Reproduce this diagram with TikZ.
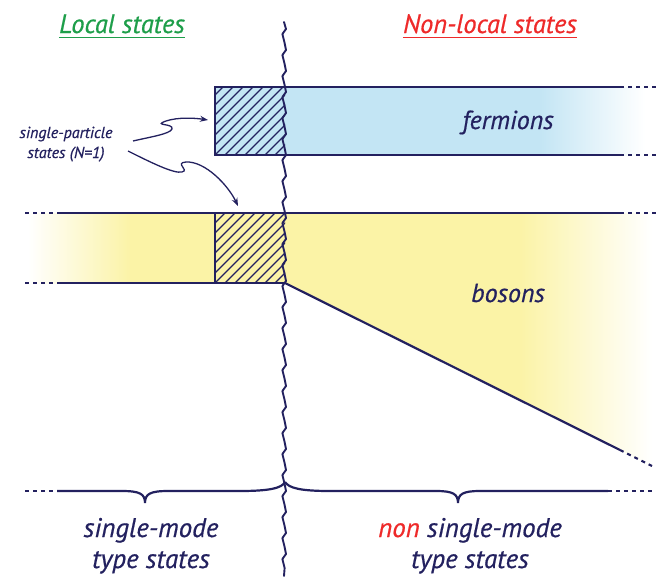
\documentclass[tikz,border=0pt]{standalone}
\usepackage{fontspec}
\setmainfont{PT Sans}[ItalicFeatures={FakeBold=0.6}]
\definecolor{navy}{HTML}{23215F}
\definecolor{lgreen}{HTML}{1E9E4A}
\definecolor{lred}{HTML}{EE2A2A}
\definecolor{fblue}{HTML}{C3E5F4}
\definecolor{byell}{HTML}{FBF3A6}
\tikzset{
  edge/.style={navy, line width=2.2pt},
  dashedge/.style={navy, line width=2.2pt, dash pattern=on 4pt off 4pt},
  hatch/.style={navy, line width=1.3pt},
  lbl/.style={text=navy, font=\itshape\fontsize{26}{30}\selectfont, inner sep=0pt},
  btm/.style={text=navy, font=\itshape\fontsize{27}{31}\selectfont, inner sep=0pt, align=center, anchor=base},
  ttl/.style={font=\itshape\fontsize{26.5}{30}\selectfont, inner sep=0pt, anchor=base},
  curvy/.style={navy, line width=1.3pt, -{Stealth[length=8pt,width=6pt]}}
}
\usetikzlibrary{arrows.meta}
\begin{document}
\begin{tikzpicture}[x=1pt,y=-1pt]
\useasboundingbox (0,0) rectangle (656,579);
% fills
\fill[fblue] (285,87) rectangle (540,155);
\shade[left color=fblue,right color=white] (539,87) rectangle (645,155);
\fill[fblue] (215,87) rectangle (285,155);
\shade[left color=white,right color=byell] (28,213) rectangle (131,283);
\fill[byell] (130,213) rectangle (285,283);
\begin{scope}
  \clip (284,213) -- (656,213) -- (656,468) -- (284,283) -- cycle;
  \fill[byell] (284,213) rectangle (520,470);
  \shade[left color=byell,right color=white] (519,213) rectangle (652,470);
\end{scope}
% hatching
\begin{scope}
  \clip (215,87) rectangle (285,155);
  \foreach \i in {-80,-70,...,80} \draw[hatch] ({215+\i},165) -- ++(90,-90);
\end{scope}
\begin{scope}
  \clip (215,213) rectangle (285,283);
  \foreach \i in {-80,-70,...,80} \draw[hatch] ({215+\i},293) -- ++(90,-90);
\end{scope}
% fermion box lines
\draw[edge] (215,87) -- (620,87);
\draw[edge] (215,155) -- (620,155);
\draw[edge] (215,86) -- (215,156);
\draw[dashedge] (620,87) -- (656,87);
\draw[dashedge] (620,155) -- (656,155);
% boson lines
\draw[dashedge] (25,213) -- (57,213);
\draw[edge] (57,213) -- (620,213);
\draw[dashedge] (620,213) -- (656,213);
\draw[dashedge] (25,283) -- (57,283);
\draw[edge] (57,283) -- (285,283);
\draw[edge] (215,212) -- (215,284);
\coordinate (bstart) at (285,283);
\coordinate (bend) at (620,450);
\coordinate (bfar) at (652,466);
\draw[edge] (bstart) -- (bend);
\draw[dashedge] (bend) -- (bfar);
% braces
\draw[dashedge] (25,491) -- (57,491);
\draw[edge] (57,491) -- (122,491) .. controls (140,491) and (145,494) .. (145,503)
  .. controls (145,494) and (150,491) .. (168,491) -- (240,491)
  .. controls (270,491) and (282,488) .. (285,482);
\draw[edge] (285,482) .. controls (289,488) and (300,491) .. (330,491) -- (436,491)
  .. controls (453,491) and (458,494) .. (458,503)
  .. controls (458,494) and (463,491) .. (480,491) -- (608,491);
\draw[dashedge] (608,491) -- (654,491);
% wavy divider
\draw[navy, line width=1.9pt, line join=round, line cap=round] (284,22)
  \foreach \k in {0,...,25} { -- (286,{22+\k*21+7}) -- (282.4,{22+\k*21+12}) -- (284.6,{22+\k*21+21}) }
  -- (284,576);
% titles
\node[ttl, text=lgreen] (tl) at (122,33) {Local states};
\draw[lgreen, line width=1pt] ([yshift=-4pt]tl.base west) -- ([yshift=-4pt]tl.base east);
\node[ttl, text=lred] (tr) at (490,33) {Non-local states};
\draw[lred, line width=1pt] ([yshift=-4pt]tr.base west) -- ([yshift=-4pt]tr.base east);
% labels
\node[lbl, anchor=base] (ferm) at (508,129) {fermions};
\node[lbl, anchor=base] (bos) at (508,302) {bosons};
\node[text=navy, font=\itshape\fontsize{16}{20}\selectfont, align=center, inner sep=0pt, anchor=base] (sp) at (66,158) {single-particle\\states (N=1)};
\coordinate (a1) at (208,120);
\coordinate (a2) at (238,206);
\draw[curvy] (133,141) .. controls (150,137) and (170,134) .. (172,129)
  .. controls (174,123) and (152,126) .. (166,121) .. controls (178,117) and (195,118) .. (a1);
\draw[curvy] (128,151) .. controls (150,162) and (174,174) .. (182,172)
  .. controls (190,170) and (174,163) .. (186,162) .. controls (205,161) and (228,185) .. (a2);
% bottom labels
\node[btm] (sm) at (151,568) {single-mode\\type states};
\node[btm] (nsm) at (470,568) {\textcolor{lred}{non} single-mode\\type states};
\end{tikzpicture}
\end{document}
